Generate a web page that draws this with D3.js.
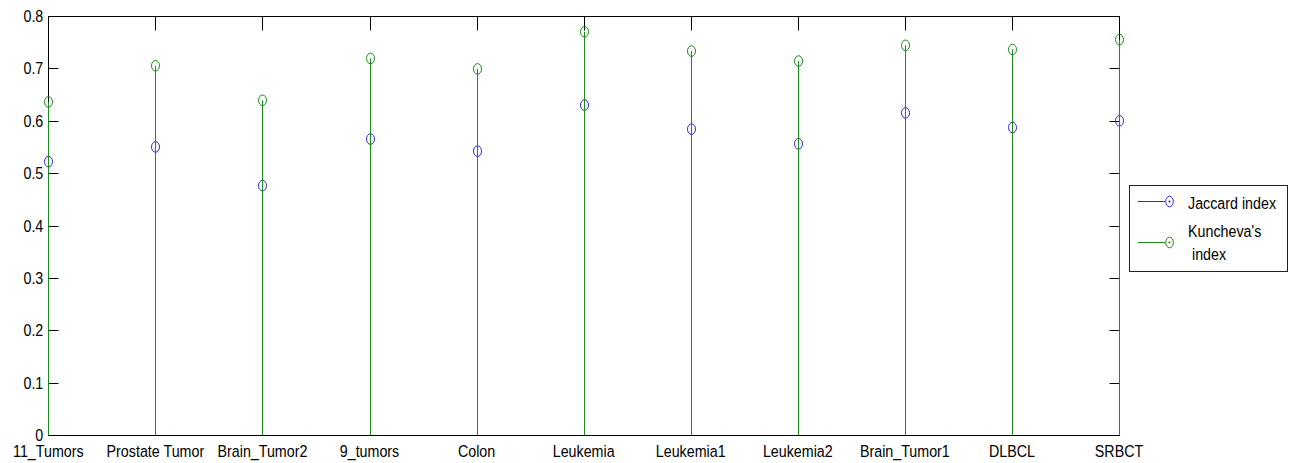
<!DOCTYPE html>
<html>
<head>
<meta charset="utf-8">
<script src="https://cdn.jsdelivr.net/npm/d3@7/dist/d3.min.js"></script>
<style>
  html, body { margin: 0; padding: 0; background: #fff; }
  svg { display: block; }
  text { font-family: Arial, "Liberation Sans", sans-serif; font-size: 17px; fill: #000; }
</style>
</head>
<body>
<svg id="chart" width="1292" height="463"></svg>
<script>
// Datasets on the x axis
const categories = ["11_Tumors", "Prostate Tumor", "Brain_Tumor2", "9_tumors", "Colon",
  "Leukemia", "Leukemia1", "Leukemia2", "Brain_Tumor1", "DLBCL", "SRBCT"];
// Stability scores per dataset
const jaccard  = [0.522, 0.550, 0.476, 0.565, 0.542, 0.630, 0.584, 0.556, 0.615, 0.587, 0.600];
const kuncheva = [0.636, 0.705, 0.639, 0.719, 0.699, 0.770, 0.733, 0.714, 0.744, 0.736, 0.755];
// Y axis ticks
const yTicks = [0, 0.1, 0.2, 0.3, 0.4, 0.5, 0.6, 0.7, 0.8];
const yTickLabels = ["0", "0.1", "0.2", "0.3", "0.4", "0.5", "0.6", "0.7", "0.8"];
const seriesNames = ["Jaccard index", "Kuncheva's", " index"];

const svg = d3.select("#chart");
const plotL = 48.3, plotR = 1119, plotT = 16, plotB = 435;
const BLUE = "#2b2bd6", GREEN = "#1c8a1c";
const SX = 0.84; // horizontal squeeze of the label font

const x = d3.scalePoint().domain(categories).range([plotL, plotR]).padding(0);
const y = d3.scaleLinear().domain([0, 0.8]).range([plotB, plotT]);
const px = v => Math.round(v) + 0.5;

function label(g, tx, ty, str, anchor) {
  return g.append("text")
    .attr("transform", `translate(${tx},${ty}) scale(${SX},1)`)
    .attr("text-anchor", anchor || "start")
    .attr("xml:space", "preserve")
    .style("white-space", "pre")
    .text(str);
}

// Axes box and inward ticks
const axes = svg.append("g");
axes.append("rect")
  .attr("x", px(plotL)).attr("y", px(plotT))
  .attr("width", px(plotR) - px(plotL)).attr("height", px(plotB) - px(plotT))
  .attr("fill", "none").attr("stroke", "#000").attr("stroke-width", 1);

yTicks.forEach((t, i) => {
  const yy = px(y(t));
  axes.append("line").attr("x1", px(plotL)).attr("x2", px(plotL) + 10).attr("y1", yy).attr("y2", yy)
    .attr("stroke", "#000");
  axes.append("line").attr("x1", px(plotR)).attr("x2", px(plotR) - 10).attr("y1", yy).attr("y2", yy)
    .attr("stroke", "#000");
  label(axes, plotL - 5, y(t) + 6, yTickLabels[i], "end");
});

categories.forEach(c => {
  const xx = px(x(c));
  axes.append("line").attr("x1", xx).attr("x2", xx).attr("y1", px(plotT)).attr("y2", px(plotT) + 14)
    .attr("stroke", "#000");
  axes.append("line").attr("x1", xx).attr("x2", xx).attr("y1", px(plotB)).attr("y2", px(plotB) - 14)
    .attr("stroke", "#000");
  label(axes, x(c), 457, c, "middle");
});

// Stem series: stems from zero, open circle markers
function stems(values, color) {
  const g = svg.append("g");
  g.selectAll("line").data(values).join("line")
    .attr("x1", (d, i) => px(x(categories[i])))
    .attr("x2", (d, i) => px(x(categories[i])))
    .attr("y1", y(0)).attr("y2", d => y(d))
    .attr("stroke", color).attr("stroke-width", 1);
  g.selectAll("ellipse").data(values).join("ellipse")
    .attr("cx", (d, i) => px(x(categories[i])))
    .attr("cy", d => y(d))
    .attr("rx", 4).attr("ry", 5.3)
    .attr("fill", "none").attr("stroke", color).attr("stroke-width", 1);
}
stems(jaccard, BLUE);
stems(kuncheva, GREEN);

// Legend
const lg = svg.append("g");
lg.append("rect").attr("x", 1129.5).attr("y", 185.5).attr("width", 158).attr("height", 86)
  .attr("fill", "#fff").attr("stroke", "#222").attr("stroke-width", 1);
[[BLUE, 201.5], [GREEN, 242.5]].forEach(([col, ly]) => {
  lg.append("line").attr("x1", 1138).attr("x2", 1165).attr("y1", ly).attr("y2", ly)
    .attr("stroke", col).attr("stroke-width", 1);
  lg.append("ellipse").attr("cx", 1169.5).attr("cy", ly).attr("rx", 3.8).attr("ry", 5.3)
    .attr("fill", "none").attr("stroke", col).attr("stroke-width", 1);
  lg.append("circle").attr("cx", 1169.5).attr("cy", ly).attr("r", 1.1).attr("fill", col);
});
label(lg, 1188, 209, seriesNames[0]);
label(lg, 1188, 237, seriesNames[1]);
label(lg, 1188, 260, seriesNames[2]);
</script>
</body>
</html>
